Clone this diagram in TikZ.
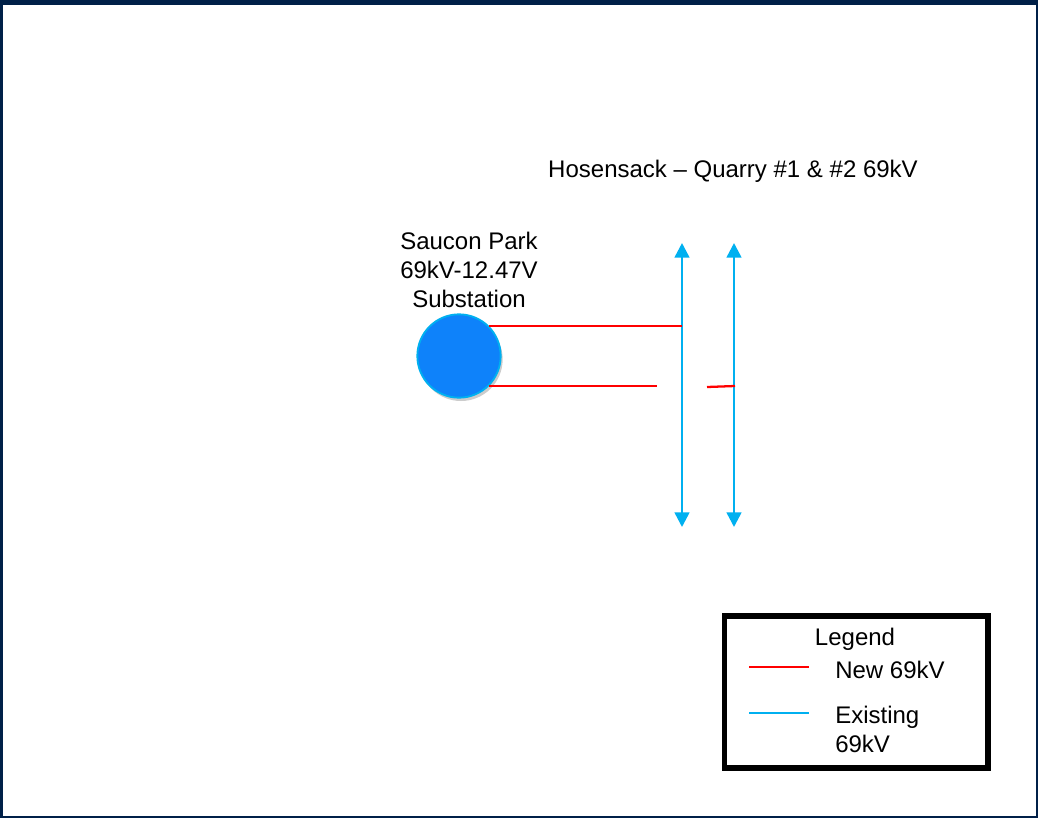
\documentclass[tikz,border=0pt]{standalone}
\usepackage{fontspec}
\setmainfont{Liberation Sans}
\usetikzlibrary{arrows.meta,shadows}
\definecolor{navy}{RGB}{0,32,72}
\definecolor{exblue}{RGB}{0,176,240}
\definecolor{subblue}{RGB}{14,130,250}
\tikzset{
  newln/.style={draw=red,line width=1.7pt},
  existln/.style={draw=exblue,line width=1.9pt,{Triangle[length=11pt,width=11pt]}-{Triangle[length=11pt,width=11pt]}},
  lbl/.style={font=\fontsize{18}{21.5}\selectfont,inner sep=0pt}
}
\begin{document}
\begin{tikzpicture}[x=0.75pt,y=-0.75pt]
% frame
\fill[navy] (0,0) rectangle (1038,818);
\fill[white] (3,5) rectangle (1036,816);
\useasboundingbox (0,0) rectangle (1038,818);

% substation
\node[circle,minimum size=62.5pt,inner sep=0pt,fill=subblue,draw=exblue,line width=1.4pt,
  drop shadow={opacity=0.4,shadow xshift=1.5pt,shadow yshift=-2.5pt}] (sub) at (459,356) {};
\node[lbl,align=center] (subname) at (469,270) {Saucon Park\\69kV-12.47V\\Substation};

% existing 69kV lines
\node[lbl] (linename) at (733,171) {Hosensack -- Quarry \#1 \& \#2 69kV};
\coordinate (q1top) at (682,243);
\coordinate (q1bot) at (682,527);
\coordinate (q2top) at (734,243);
\coordinate (q2bot) at (734,527);
\draw[existln] (q1top) -- (q1bot);
\draw[existln] (q2top) -- (q2bot);

% new 69kV taps
\coordinate (tapa) at (682,326);
\coordinate (tapb) at (657,385);
\coordinate (stubl) at (707,387);
\coordinate (stubr) at (735,386);
\draw[newln] (sub.45) -- (sub.45 -| tapa);
\draw[newln] (sub.-45) -- (sub.-45 -| tapb);
\draw[newln] (stubl) -- (stubr);

% legend
\draw[line width=4pt] (724.5,616) rectangle (988,768);
\node[lbl,anchor=base] (legtitle) at (855,645) {Legend};
\coordinate (legra) at (749,667);
\coordinate (legrb) at (809,667);
\coordinate (legba) at (749,713);
\coordinate (legbb) at (809,713);
\draw[newln] (legra) -- (legrb);
\draw[existln,-] (legba) -- (legbb);
\node[lbl,anchor=base west] (legnew) at (835,678) {New 69kV};
\node[lbl,anchor=base west,align=left] (legold) at (835,723) {Existing};
\node[lbl,anchor=base west] (legold2) at (835,752) {69kV};
\end{tikzpicture}
\end{document}
